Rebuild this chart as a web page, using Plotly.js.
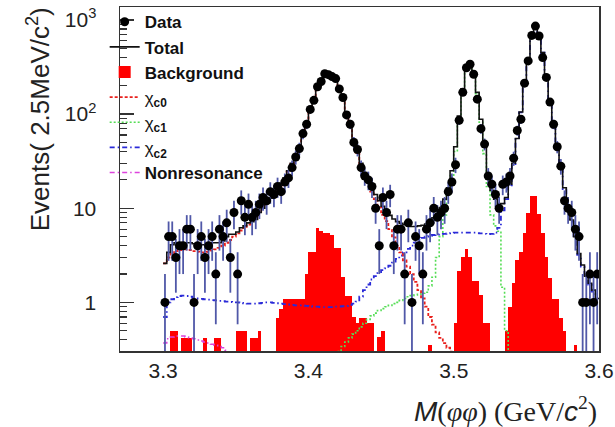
<!DOCTYPE html>
<html>
<head>
<meta charset="utf-8">
<script src="https://cdn.plot.ly/plotly-3.0.1.min.js"></script>
<style>html,body{margin:0;padding:0;background:#fff;}#chart{width:615px;height:427px;}</style>
</head>
<body>
<div id="chart"></div>
<script>
// Binning: 2.5 MeV bins starting at 3.30 GeV
const massLow = 3.30;
const binWidth = 0.0025;

// Data counts per bin (events / 2.5 MeV)
const counts = [
  1,5,5,3,4,4,6,6,1,4,
  5,3,4,5,2,6,5,7,3,9,
  2,12,8,11,8,9,11,13,12,15,
  14,17,15,19,21,27,35,43,62,78,
  112,140,195,222,268,262,250,238,185,150,
  98,78,50,42,27,22,20,17,10,4,
  13,9,14,4,6,6,2,7,1,5,
  4,2,6,7,10,8,9,10,15,19,
  29,86,170,310,338,265,144,70,48,22,
  18,14,10,18,19,22,34,67,88,213,
  367,684,859,675,398,245,134,78,45,28,
  12,10,9,6,5,1,1,2,1,2
];

// Total fit
const totalFit = [
  2.6,3.4,4.1,4.3,4.3,4.3,4.3,4.3,4.2,4.1,
  4.1,4.1,4.2,4.3,4.3,4.3,4.5,5.0,5.3,5.3,
  5.6,6.2,6.5,7.0,7.2,7.6,9.0,10.0,11.5,12.8,
  14.0,16.0,18.5,21,25,30,37,46,60,80,
  108,145,188,228,257,270,262,232,190,145,
  105,75,54,40,30,24,20,17,14,12,
  10.5,9.3,8.4,7.7,7.2,6.9,6.7,6.5,6.4,6.4,
  6.5,6.6,6.8,7.2,7.9,8.8,10.2,12.5,16.5,25,
  45,95,185,295,335,280,170,88,45,22,
  15.5,12.5,11.2,11.2,13,18,30,55,105,200,
  370,650,880,690,450,245,130,72,44,27,
  16.5,10.5,7.5,5,3.3,2.5,1.9,1.6,1.35,1.1
];

// chi_c0 component
const chic0Fit = [
  2.6,3.0,3.3,3.5,3.6,3.65,3.65,3.6,3.5,3.45,
  3.4,3.4,3.45,3.55,3.65,3.8,4.0,4.3,4.6,5.0,
  5.4,5.8,6.2,6.7,7.4,8.2,9.2,10.3,11.5,12.6,
  13.9,15.4,17.4,20.4,24.4,29.4,36.4,45.4,59.4,79.4,
  107,144,187,227,256,269,261,231,189,144,
  104,74,53,39,29,23,18.5,15,12.5,10.2,
  8.5,7.3,6.0,4.9,4.0,3.4,2.8,2.4,2.0,1.65,
  1.35,1.1,0.9,0.7,0.58,0.48,0.42,0.37,0.33,0.3,
  0.27,0.25,0.23,0.21,0.19,0.17,0.16,0.15,0.14,0.13
];

// chi_c1 component (null where not drawn)
const chic1Fit = [
  null,null,null,null,null,null,null,null,null,null,
  null,null,null,null,null,null,null,null,null,null,
  null,null,null,null,null,null,null,null,null,null,
  null,null,null,null,null,null,null,null,null,null,
  null,null,null,null,null,null,null,null,0.3,0.34,
  0.38,0.42,0.46,0.5,0.55,0.6,0.66,0.72,0.77,0.82,
  0.86,0.9,0.93,0.97,1.0,1.05,1.1,1.15,1.18,1.2,
  1.22,1.25,1.28,1.5,1.85,3.0,5.0,8.5,14,22,
  40,90,180,290,330,275,165,82,38,17,
  8.5,6.5,5.7,1.45,0.5,0.2
];

// chi_c2 component
const chic2Fit = [
  0.7,1.0,1.08,1.14,1.17,1.18,1.17,1.15,1.12,1.1,
  1.09,1.08,1.07,1.06,1.05,1.04,1.03,1.02,1.01,1.0,
  1.0,0.99,0.98,0.97,0.97,0.97,0.98,0.99,1.0,1.0,
  0.99,0.98,0.97,0.96,0.95,0.94,0.93,0.93,0.93,0.92,
  0.91,0.9,0.9,0.89,0.89,0.89,0.89,0.9,0.9,0.91,
  0.92,0.94,0.97,1.02,1.15,1.35,1.55,1.75,1.9,2.05,
  2.2,2.3,2.45,2.65,2.9,3.15,3.4,3.7,4.0,4.3,
  4.6,4.85,5.0,5.1,5.2,5.25,5.3,5.35,5.4,5.45,
  5.5,5.5,5.5,5.5,5.5,5.5,5.45,5.4,5.35,5.3,
  5.35,5.5,6.2,9.5,12.5,17.5,29.5,54,104,199,
  368,648,878,688,448,244,129,71,43,26,
  16,10,7.2,4.8,3.2,2.4,1.85,1.55,1.3,1.05
];

// Nonresonant component
const nonresFit = [
  0.37,0.41,0.43,0.44,0.44,0.44,0.43,0.42,0.41,0.4,
  0.39,0.38,0.37,0.36,0.35,0.34,0.33,0.31,0.3,0.29,
  0.28
];

// Background histogram
const background = [
  0,0,0.5,0.5,0,0.42,0.42,0.42,0,0,
  0,0.42,0,0,0.42,0.42,0,0,0,0,
  0.5,0.5,0.5,0,0.42,0.42,0.5,0,0,0,
  0,0.68,0.86,1.1,1.1,1.1,1.1,1.1,1.1,2.0,
  3.4,3.4,6.2,5.7,5.5,5.5,5.2,3.8,3.8,1.85,
  1.18,1.18,0.7,0.6,0.68,0.68,0.6,0.6,0,0.43,
  0.5,0,0,0,0,0,0,0,0,0,
  0,0,0,0.35,0,0,0,0,0,0,
  0.6,2.17,3.0,3.67,3.0,1.7,1.7,1.2,0.6,0.6,
  0,0,0,0,0.5,0.9,1.6,2.8,3.4,5.5,
  9,13.4,13.4,8.6,5.5,3.0,1.8,1.1,1.1,0.68,
  0.5,0,0,0.35,0,0,0,0,0,0
];

// Axis tick labels and legend names
const xTickVals = [3.3, 3.4, 3.5, 3.6];
const xTickText = ['3.3', '3.4', '3.5', '3.6'];
const yTickVals = [1, 10, 100, 1000];
const yTickText = ['1', '10', '10<sup>2</sup>', '10<sup>3</sup>'];
const legendNames = ['<b>Data</b>', '<b>Total</b>', '<b>Background</b>', 'χ<b><sub>c0</sub></b>', 'χ<b><sub>c1</sub></b>', 'χ<b><sub>c2</sub></b>', '<b>Nonresonance</b>'];

// ---- helpers ----
const centers = arr => arr.map((_, i) => massLow + binWidth * (i + 0.5));
function stepXY(arr) {
  const x = arr.map((_, i) => massLow + binWidth * i);
  x.push(massLow + binWidth * arr.length);
  const y = arr.slice();
  y.push(arr[arr.length - 1]);
  return {x, y};
}
const errUp = counts.map(n => Math.sqrt(n));
const errDn = counts.map(n => Math.min(Math.sqrt(n), n * 0.999));

const minorVals = [];
[0.1, 1, 10, 100].forEach(d => { for (let k = 2; k <= 9; k++) minorVals.push(d * k); });

function fitTrace(arr, name, color, dash, width, rank) {
  const s = stepXY(arr);
  return {
    type: 'scatter', mode: 'lines', x: s.x, y: s.y, name: name,
    line: {color: color, width: width, dash: dash, shape: 'hv'},
    connectgaps: false, legendrank: rank, hoverinfo: 'skip'
  };
}

const traces = [
  {
    type: 'bar', x: centers(background), y: background, width: binWidth,
    name: legendNames[2], marker: {color: '#ff0000', line: {width: 0}},
    legendrank: 3, hoverinfo: 'skip'
  },
  fitTrace(nonresFit, legendNames[6], '#dd44dd', '5px,3px,1.5px,3px', 1.5, 7),
  fitTrace(chic1Fit, legendNames[4], '#55dd55', '2px,2px', 1.6, 5),
  fitTrace(chic2Fit, legendNames[5], '#2a2ad8', '5px,3px,1.5px,3px', 1.8, 6),
  fitTrace(chic0Fit, legendNames[3], '#e8201c', '3px,2px', 1.8, 4),
  fitTrace(totalFit, legendNames[1], '#111111', 'solid', 1.6, 2),
  {
    type: 'scatter', mode: 'markers', x: centers(counts), y: counts, name: legendNames[0],
    marker: {color: '#000000', size: 9, symbol: 'circle'},
    error_y: {type: 'data', symmetric: false, array: errUp, arrayminus: errDn,
              color: '#5058a8', thickness: 1.8, width: 0},
    legendrank: 1, hoverinfo: 'skip'
  }
];

const layout = {
  width: 615, height: 427,
  margin: {l: 120, r: 16, t: 4, b: 76, pad: 0},
  paper_bgcolor: '#ffffff', plot_bgcolor: '#ffffff',
  showlegend: true,
  bargap: 0,
  font: {family: 'Liberation Sans, Arial, sans-serif', color: '#222'},
  legend: {
    x: -0.032, y: 1.008, xanchor: 'left', yanchor: 'top',
    bgcolor: 'rgba(0,0,0,0)', borderwidth: 0,
    font: {family: 'Liberation Sans, Arial, sans-serif', size: 17, color: '#111'},
    itemwidth: 30, tracegroupgap: 0
  },
  xaxis: {
    range: [3.2703, 3.6], tickmode: 'array', tickvals: xTickVals, ticktext: xTickText,
    ticks: '', showgrid: false, zeroline: false,
    showline: true, mirror: true, linecolor: '#333', linewidth: 1.5,
    tickfont: {size: 21, color: '#222'}, ticklabelstandoff: 0
  },
  yaxis: {
    type: 'log', range: [-0.516, 3.137],
    tickmode: 'array', tickvals: yTickVals, ticktext: yTickText,
    ticks: 'inside', ticklen: 14, tickwidth: 1.2, tickcolor: '#333',
    minor: {tickmode: 'array', tickvals: minorVals, ticks: 'inside', ticklen: 7, tickwidth: 1.2, tickcolor: '#333'},
    showgrid: false, zeroline: false,
    showline: true, mirror: true, linecolor: '#333', linewidth: 1.5,
    tickfont: {size: 21, color: '#222'}, ticklabelstandoff: 18
  },
  annotations: [
    {
      xref: 'paper', yref: 'paper', x: -0.171, y: 0.674, xanchor: 'center', yanchor: 'middle',
      textangle: -90, showarrow: false,
      text: 'Events( 2.5MeV/c<sup>2</sup>)',
      font: {family: 'Liberation Sans, Arial, sans-serif', size: 26, color: '#222'}
    },
    {
      xref: 'paper', yref: 'paper', x: 1.0, y: -0.17, xanchor: 'right', yanchor: 'middle',
      showarrow: false,
      text: '<span style="font-family:\'Liberation Sans\'"><i>M</i></span>(<i>φφ</i>) (GeV/<span style="font-family:\'Liberation Sans\'"><i>c</i></span><sup>2</sup>)',
      font: {family: 'Liberation Serif, Times New Roman, serif', size: 28, color: '#222'}
    }
  ]
};

Plotly.newPlot('chart', traces, layout, {staticPlot: true, displayModeBar: false});
</script>
</body>
</html>
